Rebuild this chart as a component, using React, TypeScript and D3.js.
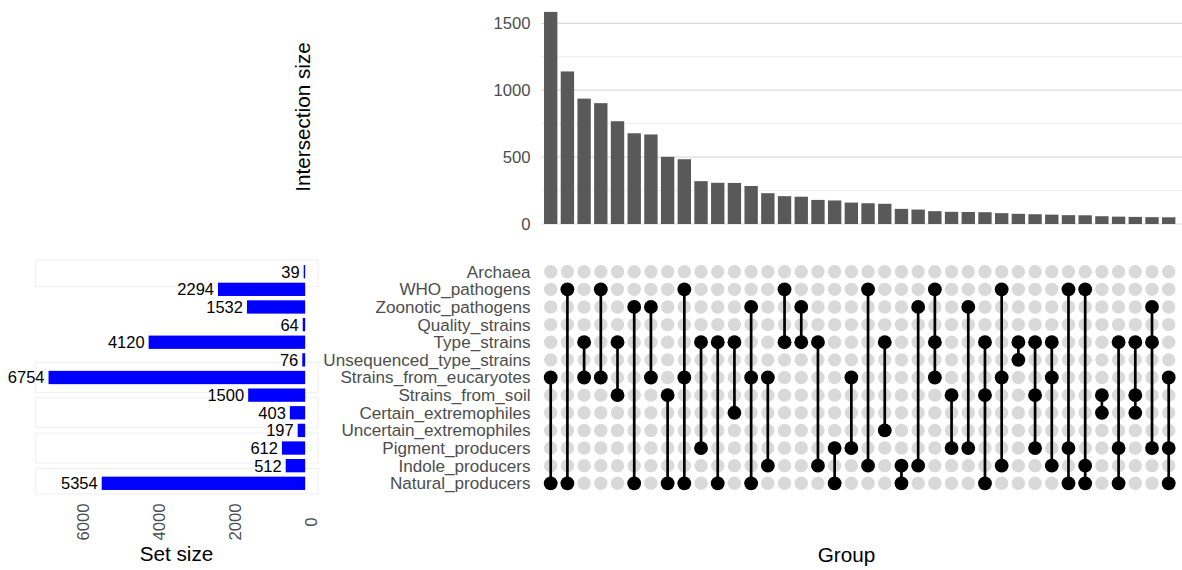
import React, { useRef, useEffect } from "react";
import * as d3 from "d3";

// sets, top to bottom in the matrix
const sets = [
  "Archaea",
  "WHO_pathogens",
  "Zoonotic_pathogens",
  "Quality_strains",
  "Type_strains",
  "Unsequenced_type_strains",
  "Strains_from_eucaryotes",
  "Strains_from_soil",
  "Certain_extremophiles",
  "Uncertain_extremophiles",
  "Pigment_producers",
  "Indole_producers",
  "Natural_producers",
];
const setSizes = [39, 2294, 1532, 64, 4120, 76, 6754, 1500, 403, 197, 612, 512, 5354];

// intersection sizes, sorted as in the plot
const intersectionSizes = [
  1585, 1140, 937, 903, 768, 678, 669, 502, 484, 320, 308, 307, 284, 230, 208, 204, 180, 176, 160,
  155, 151, 113, 108, 96, 91, 90, 88, 81, 76, 73, 70, 66, 65, 58, 55, 53, 51, 50,
];

// which sets take part in each intersection (same order as intersectionSizes)
const memberships = [
  ["Strains_from_eucaryotes", "Natural_producers"],
  ["WHO_pathogens", "Natural_producers"],
  ["Type_strains", "Strains_from_eucaryotes"],
  ["WHO_pathogens", "Strains_from_eucaryotes"],
  ["Type_strains", "Strains_from_soil"],
  ["Zoonotic_pathogens", "Natural_producers"],
  ["Zoonotic_pathogens", "Strains_from_eucaryotes"],
  ["Strains_from_soil", "Natural_producers"],
  ["WHO_pathogens", "Strains_from_eucaryotes", "Natural_producers"],
  ["Type_strains", "Pigment_producers"],
  ["Type_strains", "Natural_producers"],
  ["Type_strains", "Certain_extremophiles"],
  ["Zoonotic_pathogens", "Strains_from_eucaryotes", "Natural_producers"],
  ["Strains_from_eucaryotes", "Indole_producers"],
  ["WHO_pathogens", "Type_strains"],
  ["Zoonotic_pathogens", "Type_strains"],
  ["Type_strains", "Indole_producers"],
  ["Pigment_producers", "Natural_producers"],
  ["Strains_from_eucaryotes", "Pigment_producers"],
  ["WHO_pathogens", "Indole_producers"],
  ["Type_strains", "Uncertain_extremophiles"],
  ["Indole_producers", "Natural_producers"],
  ["Zoonotic_pathogens", "Indole_producers"],
  ["WHO_pathogens", "Type_strains", "Strains_from_eucaryotes"],
  ["Strains_from_soil", "Pigment_producers"],
  ["Zoonotic_pathogens", "Pigment_producers"],
  ["Type_strains", "Strains_from_soil", "Natural_producers"],
  ["WHO_pathogens", "Strains_from_eucaryotes", "Indole_producers"],
  ["Type_strains", "Unsequenced_type_strains"],
  ["Type_strains", "Strains_from_soil", "Pigment_producers"],
  ["Type_strains", "Strains_from_eucaryotes", "Indole_producers"],
  ["WHO_pathogens", "Pigment_producers", "Natural_producers"],
  ["WHO_pathogens", "Indole_producers", "Natural_producers"],
  ["Strains_from_soil", "Certain_extremophiles"],
  ["Type_strains", "Pigment_producers", "Natural_producers"],
  ["Type_strains", "Strains_from_soil", "Certain_extremophiles"],
  ["Zoonotic_pathogens", "Type_strains", "Pigment_producers"],
  ["Strains_from_eucaryotes", "Pigment_producers", "Natural_producers"],
];

// rows that carry a faint stripe in the set size panel
const stripeSets = ["Archaea", "Strains_from_eucaryotes", "Certain_extremophiles", "Pigment_producers", "Natural_producers"];

const FONT = "'Liberation Sans', Arial, sans-serif";
const W = 1182;
const H = 570;

const App = () => {
  const svgRef = useRef<SVGSVGElement>(null);

  useEffect(() => {
    const svg = d3.select(svgRef.current);
    svg.selectAll("*").remove();
    svg.style("font-family", FONT);

    const n = intersectionSizes.length;

    // shared scales
    const x = d3.scaleBand<number>().domain(d3.range(n)).range([542.35, 1177.05]);
    const cx = (i: number) => (x(i) as number) + x.bandwidth() / 2;
    const rowY = d3.scalePoint<string>().domain(sets).range([271.7, 483.3]);

    // ---- intersection size bars ----
    const yMax = (d3.max(intersectionSizes) as number) * 1.05;
    const y = d3.scaleLinear().domain([0, yMax]).range([224, 1.3]);
    const major = y.ticks(4);
    const minor = major.slice(0, -1).map((t, i) => (t + major[i + 1]) / 2);

    const top = svg.append("g");
    top.selectAll("line.minor")
      .data(minor)
      .enter()
      .append("line")
      .attr("x1", 541)
      .attr("x2", W)
      .attr("y1", (d) => y(d))
      .attr("y2", (d) => y(d))
      .attr("stroke", "#ebebeb")
      .attr("stroke-width", 0.9);
    top.selectAll("line.major")
      .data(major)
      .enter()
      .append("line")
      .attr("x1", 541)
      .attr("x2", W)
      .attr("y1", (d) => y(d))
      .attr("y2", (d) => y(d))
      .attr("stroke", "#dcdcdc")
      .attr("stroke-width", 1.2);
    top.selectAll("text.tick")
      .data(major)
      .enter()
      .append("text")
      .attr("x", 530.5)
      .attr("y", (d) => y(d))
      .attr("dy", "0.35em")
      .attr("text-anchor", "end")
      .attr("font-size", 16.7)
      .attr("fill", "#4d4d4d")
      .text((d) => d);

    const bw = x.bandwidth() * 0.8;
    top.selectAll("rect")
      .data(intersectionSizes)
      .enter()
      .append("rect")
      .attr("x", (_, i) => cx(i) - bw / 2)
      .attr("width", bw)
      .attr("y", (d) => y(d))
      .attr("height", (d) => y(0) - y(d))
      .attr("fill", "#595959");

    svg.append("text")
      .attr("transform", "translate(310,117) rotate(-90)")
      .attr("text-anchor", "middle")
      .attr("font-size", 20.7)
      .attr("fill", "#000")
      .text("Intersection size");

    // ---- matrix ----
    const mat = svg.append("g");
    mat.selectAll("text")
      .data(sets)
      .enter()
      .append("text")
      .attr("x", 530.5)
      .attr("y", (d) => rowY(d) as number)
      .attr("dy", "0.35em")
      .attr("text-anchor", "end")
      .attr("font-size", 17.1)
      .attr("fill", "#4d4d4d")
      .text((d) => d);

    const grid = d3.cross(d3.range(n), sets);
    mat.selectAll("circle.bg")
      .data(grid)
      .enter()
      .append("circle")
      .attr("cx", (d) => cx(d[0]))
      .attr("cy", (d) => rowY(d[1]) as number)
      .attr("r", 6.7)
      .attr("fill", "#d9d9d9");

    memberships.forEach((m, i) => {
      const ys = m.map((s) => rowY(s) as number);
      mat.append("line")
        .attr("x1", cx(i))
        .attr("x2", cx(i))
        .attr("y1", d3.min(ys) as number)
        .attr("y2", d3.max(ys) as number)
        .attr("stroke", "#000")
        .attr("stroke-width", 2.7);
      mat.selectAll(null)
        .data(ys)
        .enter()
        .append("circle")
        .attr("cx", cx(i))
        .attr("cy", (d) => d)
        .attr("r", 6.9)
        .attr("fill", "#000");
    });

    svg.append("text")
      .attr("x", 846.5)
      .attr("y", 562)
      .attr("text-anchor", "middle")
      .attr("font-size", 20.7)
      .attr("fill", "#000")
      .text("Group");

    // ---- set size bars ----
    const sMax = d3.max(setSizes) as number;
    const sx = d3.scaleLinear().domain([-0.05 * sMax, 1.05 * sMax]).range([318, 35.7]);
    const left = svg.append("g");

    left.selectAll("rect.stripe")
      .data(stripeSets)
      .enter()
      .append("rect")
      .attr("x", sx(1.05 * sMax))
      .attr("width", sx(-0.05 * sMax) - sx(1.05 * sMax))
      .attr("y", (d) => Math.max(260, (rowY(d) as number) - 15))
      .attr("height", (d) => Math.min(494, (rowY(d) as number) + 15) - Math.max(260, (rowY(d) as number) - 15))
      .attr("fill", "#fff")
      .attr("stroke", "#ebebeb")
      .attr("stroke-width", 0.8);

    const sh = 13.3;
    left.selectAll("rect.bar")
      .data(setSizes)
      .enter()
      .append("rect")
      .attr("x", (d) => sx(d))
      .attr("width", (d) => sx(0) - sx(d))
      .attr("y", (_, i) => (rowY(sets[i]) as number) - sh / 2)
      .attr("height", sh)
      .attr("fill", "#0000ff");

    left.selectAll("text.val")
      .data(setSizes)
      .enter()
      .append("text")
      .attr("x", (d) => sx(d) - 4)
      .attr("y", (_, i) => rowY(sets[i]) as number)
      .attr("dy", "0.36em")
      .attr("text-anchor", "end")
      .attr("font-size", 16.5)
      .attr("fill", "#000")
      .text((d) => d);

    left.selectAll("text.tick")
      .data([0, 2000, 4000, 6000])
      .enter()
      .append("text")
      .attr("transform", (d) => `translate(${sx(d) + 12},522) rotate(-90)`)
      .attr("text-anchor", "middle")
      .attr("font-size", 16.7)
      .attr("fill", "#4d4d4d")
      .text((d) => d);

    svg.append("text")
      .attr("x", 176.5)
      .attr("y", 561)
      .attr("text-anchor", "middle")
      .attr("font-size", 20.7)
      .attr("fill", "#000")
      .text("Set size");
  }, []);

  return (
    <svg
      ref={svgRef}
      width={W}
      height={H}
      style={{ position: "absolute", left: 0, top: 0, background: "#fff" }}
    />
  );
};

export default App;
